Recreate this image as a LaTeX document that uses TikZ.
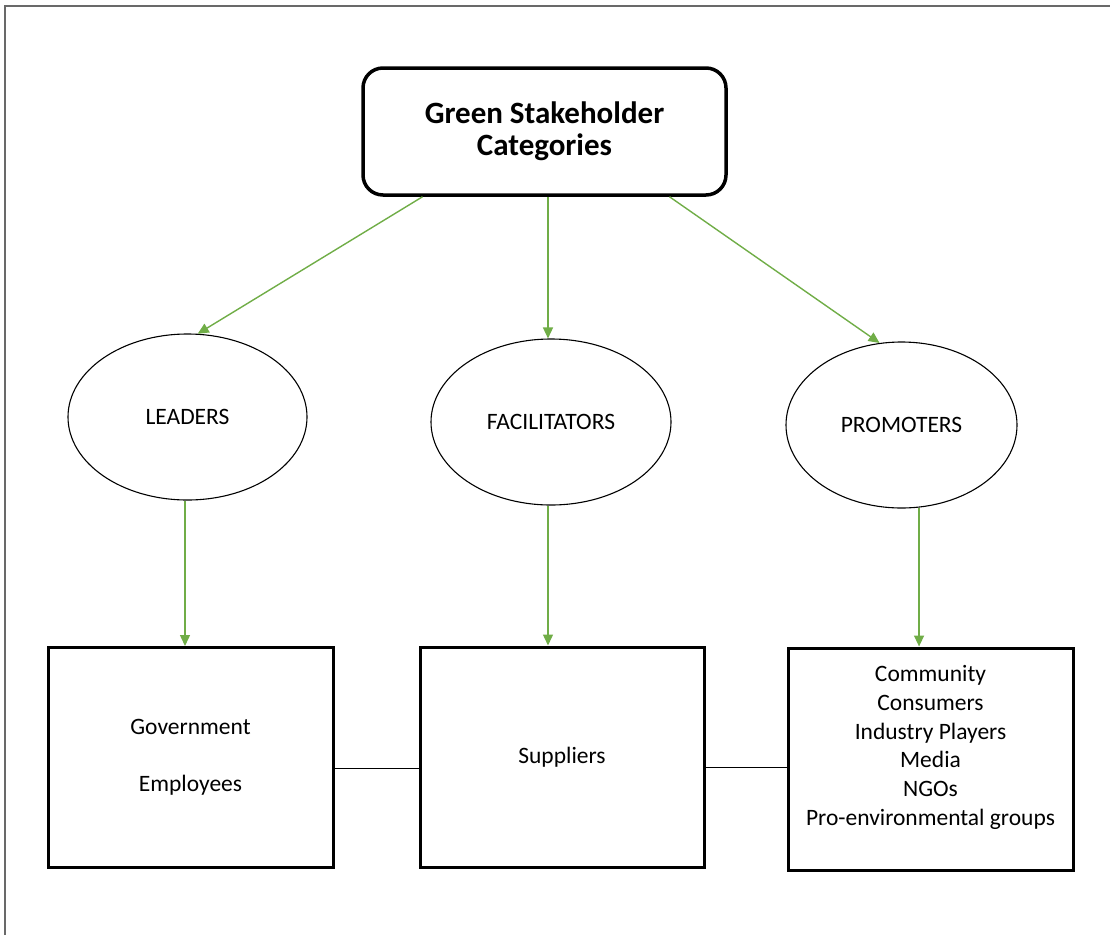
\documentclass[tikz,border=0pt]{standalone}
\usepackage{fontspec}
\setmainfont{Carlito}
\usetikzlibrary{shapes.geometric,arrows.meta,calc}
\definecolor{arrowgreen}{RGB}{112,173,71}
\definecolor{framegray}{RGB}{105,105,105}
\begin{document}
\begin{tikzpicture}[x=1pt,y=-1pt,
  body/.style={font=\fontsize{23.5}{28.7}\selectfont},
  headbox/.style={draw,line width=3.5pt,rounded corners=20pt,minimum width=363pt,
    minimum height=127pt,align=center,inner sep=0pt,
    font=\fontsize{31}{32}\selectfont\bfseries},
  rolenode/.style={draw,ellipse,line width=1.1pt,inner sep=0pt,body},
  groupbox/.style={draw,rectangle,line width=3pt,inner sep=0pt,minimum width=285pt,
    minimum height=220pt,body,align=center},
  arr/.style={draw=arrowgreen,line width=1.4pt,-{Triangle[length=11pt,width=10pt]}},
  link/.style={draw=black,line width=1pt},
  frame/.style={draw=framegray,line width=2.8pt}
]
\useasboundingbox (0,0) rectangle (1110,935);
\draw[frame] (5,935) -- (5,6) -- (1110,6);

% heading
\node[headbox] (title) at (544.5,131.5) {Green Stakeholder\\Categories};

% stakeholder roles
\node[rolenode,minimum width=239pt,minimum height=166pt] (lead) at (187.5,417) {LEADERS};
\node[rolenode,minimum width=240pt,minimum height=166pt] (fac) at (551,422) {FACILITATORS};
\node[rolenode,minimum width=231pt,minimum height=166pt] (prom) at (901.5,425) {PROMOTERS};

% stakeholder groups
\node[groupbox] (gov) at (190.5,757.5) {Government\\[28pt]Employees};
\node[groupbox,minimum width=284pt] (supp) at (562,757) {Suppliers};
\node[groupbox,minimum height=222pt] (comm) at (930.5,759) {};
\node[body,align=center] (commtxt) at ([yshift=11.5pt]comm.center)
  {Community\\Consumers\\Industry Players\\Media\\NGOs\\Pro-environmental groups};

% arrows from heading to roles
\draw[arr] ([xshift=-122pt]title.south) -- (lead.83);
\draw[arr] ([xshift=-3pt]fac.north |- title.south) -- ([xshift=-3pt]fac.north);
\draw[arr] ([xshift=125pt]title.south) -- (prom.105);

% arrows from roles to groups
\draw[arr] ([xshift=-2.5pt]lead.south) -- ([xshift=-2.5pt]lead.south |- gov.north);
\draw[arr] ([xshift=-3pt]fac.south) -- ([xshift=-3pt]fac.south |- supp.north);
\draw[arr] (prom.-78) -- (prom.-78 |- comm.north);

% links between groups
\draw[link] ([yshift=-10.5pt]gov.east) -- ([yshift=-10.5pt]gov.east -| supp.west);
\draw[link] ([yshift=-10pt]supp.east) -- ([yshift=-10pt]supp.east -| comm.west);
\end{tikzpicture}
\end{document}
